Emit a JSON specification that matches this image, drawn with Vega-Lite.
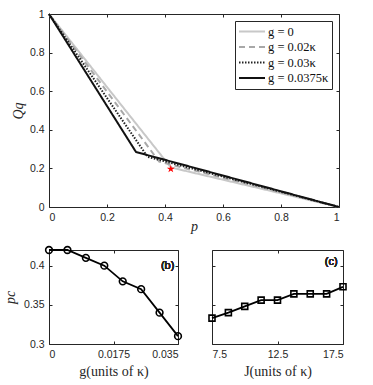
{
  "$schema": "https://vega.github.io/schema/vega-lite/v6.json",
  "background": "white",
  "padding": {"left": 3, "top": 8, "right": 5, "bottom": 0},
  "spacing": 8,
  "resolve": {
    "scale": {"color": "independent", "strokeDash": "independent", "strokeWidth": "independent"},
    "legend": {"color": "independent", "strokeDash": "independent", "strokeWidth": "independent"}
  },
  "datasets": {
    "curves": [
      {"g": "g = 0", "p": 0, "Q": 1},
      {"g": "g = 0", "p": 0.42, "Q": 0.205},
      {"g": "g = 0", "p": 1, "Q": 0},
      {"g": "g = 0.02κ", "p": 0, "Q": 1},
      {"g": "g = 0.02κ", "p": 0.38, "Q": 0.235},
      {"g": "g = 0.02κ", "p": 1, "Q": 0},
      {"g": "g = 0.03κ", "p": 0, "Q": 1},
      {"g": "g = 0.03κ", "p": 0.34, "Q": 0.26},
      {"g": "g = 0.03κ", "p": 1, "Q": 0},
      {"g": "g = 0.0375κ", "p": 0, "Q": 1},
      {"g": "g = 0.0375κ", "p": 0.30, "Q": 0.285},
      {"g": "g = 0.0375κ", "p": 1, "Q": 0}
    ],
    "star": [{"p": 0.42, "Q": 0.197}],
    "pcg": [
      {"g": 0, "pc": 0.42},
      {"g": 0.005, "pc": 0.42},
      {"g": 0.01, "pc": 0.41},
      {"g": 0.015, "pc": 0.40},
      {"g": 0.02, "pc": 0.38},
      {"g": 0.025, "pc": 0.37},
      {"g": 0.03, "pc": 0.34},
      {"g": 0.035, "pc": 0.31}
    ],
    "pcJ": [
      {"J": 7.5, "pc": 0.333},
      {"J": 8.75, "pc": 0.340},
      {"J": 10, "pc": 0.348},
      {"J": 11.25, "pc": 0.356},
      {"J": 12.5, "pc": 0.356},
      {"J": 13.75, "pc": 0.364},
      {"J": 15, "pc": 0.364},
      {"J": 16.25, "pc": 0.364},
      {"J": 17.5, "pc": 0.373}
    ]
  },
  "vconcat": [
    {
      "width": 290,
      "height": 193,
      "layer": [
        {
          "data": {"name": "curves"},
          "mark": {"type": "line", "strokeCap": "butt"},
          "encoding": {
            "x": {"field": "p", "type": "quantitative", "scale": {"domain": [0, 1], "nice": false},
                  "axis": {"values": [0, 0.2, 0.4, 0.6, 0.8, 1], "format": ".4~g", "title": "p", "titleFontStyle": "italic", "titlePadding": -3}},
            "y": {"field": "Q", "type": "quantitative", "scale": {"domain": [0, 1], "nice": false},
                  "axis": {"values": [0, 0.2, 0.4, 0.6, 0.8, 1], "format": ".4~g", "title": "Qq", "titleFontStyle": "italic"}},
            "color": {"field": "g", "type": "nominal", "title": null,
                      "scale": {"domain": ["g = 0", "g = 0.02κ", "g = 0.03κ", "g = 0.0375κ"], "range": ["#c8c8c8", "#a8a8a8", "#222222", "#111111"]},
                      "legend": {"orient": "top-right", "offset": 7, "title": null}},
            "strokeDash": {"field": "g", "type": "nominal", "title": null,
                      "scale": {"domain": ["g = 0", "g = 0.02κ", "g = 0.03κ", "g = 0.0375κ"], "range": [[1, 0], [6, 4], [1.5, 1.5], [1, 0]]},
                      "legend": {"orient": "top-right", "offset": 7, "title": null}},
            "strokeWidth": {"field": "g", "type": "nominal", "title": null,
                      "scale": {"domain": ["g = 0", "g = 0.02κ", "g = 0.03κ", "g = 0.0375κ"], "range": [2, 2, 1.6, 2]},
                      "legend": {"orient": "top-right", "offset": 7, "title": null}}
          }
        },
        {
          "data": {"name": "star"},
          "mark": {"type": "point", "shape": "M0,-1L0.223,-0.307L0.951,-0.309L0.361,0.117L0.588,0.809L0,0.38L-0.588,0.809L-0.361,0.117L-0.951,-0.309L-0.223,-0.307Z", "filled": true, "color": "#ff0000", "size": 70, "opacity": 1},
          "encoding": {
            "x": {"field": "p", "type": "quantitative", "scale": {"domain": [0, 1], "nice": false},
                  "axis": {"orient": "top", "values": [0, 0.2, 0.4, 0.6, 0.8, 1], "labels": false, "title": null}},
            "y": {"field": "Q", "type": "quantitative", "scale": {"domain": [0, 1], "nice": false},
                  "axis": {"orient": "right", "values": [0, 0.2, 0.4, 0.6, 0.8, 1], "labels": false, "title": null}}
          }
        },
        {
          "mark": {"type": "text", "text": "(a)", "font": "Liberation Sans", "fontSize": 11, "color": "#262626"},
          "encoding": {
            "x": {"datum": 0.065, "type": "quantitative", "scale": {"domain": [0, 1], "nice": false}, "axis": null},
            "y": {"datum": 0.935, "type": "quantitative", "scale": {"domain": [0, 1], "nice": false}, "axis": null}
          }
        }
      ],
      "resolve": {"axis": {"x": "independent", "y": "independent"}}
    },
    {
      "spacing": 19,
      "hconcat": [
        {
          "width": 129,
          "height": 94,
          "data": {"name": "pcg"},
          "layer": [
            {
              "mark": {"type": "line", "color": "black", "strokeWidth": 1.8, "point": {"shape": "circle", "filled": false, "fill": null, "size": 45, "stroke": "black", "strokeWidth": 1.6}},
              "encoding": {
                "x": {"field": "g", "type": "quantitative", "scale": {"domain": [0, 0.035], "nice": false},
                      "axis": {"values": [0, 0.0175, 0.035], "format": ".4~g", "title": "g(units of κ)", "titlePadding": 5}},
                "y": {"field": "pc", "type": "quantitative", "scale": {"domain": [0.3, 0.42], "nice": false, "zero": false},
                      "axis": {"values": [0.3, 0.35, 0.4], "format": ".4~g", "title": "pc", "titleFontStyle": "italic", "titlePadding": 6}}
              }
            },
            {
              "mark": {"type": "point", "opacity": 0},
              "encoding": {
                "x": {"field": "g", "type": "quantitative", "scale": {"domain": [0, 0.035], "nice": false},
                      "axis": {"orient": "top", "values": [0, 0.0175, 0.035], "labels": false, "title": null}},
                "y": {"field": "pc", "type": "quantitative", "scale": {"domain": [0.3, 0.42], "nice": false, "zero": false},
                      "axis": {"orient": "right", "values": [0.3, 0.35, 0.4], "labels": false, "title": null}}
              }
            },
            {
              "mark": {"type": "text", "text": "(b)", "font": "Liberation Sans", "fontSize": 11, "color": "#262626"},
              "encoding": {
                "x": {"datum": 0.0322, "type": "quantitative", "scale": {"domain": [0, 0.035], "nice": false}, "axis": null},
                "y": {"datum": 0.4, "type": "quantitative", "scale": {"domain": [0.3, 0.42], "nice": false, "zero": false}, "axis": null}
              }
            }
          ],
          "resolve": {"axis": {"x": "independent", "y": "independent"}}
        },
        {
          "width": 131,
          "height": 94,
          "data": {"name": "pcJ"},
          "layer": [
            {
              "mark": {"type": "line", "color": "black", "strokeWidth": 1.8, "point": {"shape": "square", "filled": false, "fill": null, "size": 36, "stroke": "black", "strokeWidth": 1.6}},
              "encoding": {
                "x": {"field": "J", "type": "quantitative", "scale": {"domain": [7.5, 17.5], "nice": false, "zero": false},
                      "axis": {"values": [7.5, 12.5, 17.5], "format": ".4~g", "title": "J(units of κ)", "titlePadding": 5}},
                "y": {"field": "pc", "type": "quantitative", "scale": {"domain": [0.3, 0.42], "nice": false, "zero": false},
                      "axis": {"values": [0.3, 0.35, 0.4], "labels": false, "title": null}}
              }
            },
            {
              "mark": {"type": "point", "opacity": 0},
              "encoding": {
                "x": {"field": "J", "type": "quantitative", "scale": {"domain": [7.5, 17.5], "nice": false, "zero": false},
                      "axis": {"orient": "top", "values": [7.5, 12.5, 17.5], "labels": false, "title": null}},
                "y": {"field": "pc", "type": "quantitative", "scale": {"domain": [0.3, 0.42], "nice": false, "zero": false},
                      "axis": {"orient": "right", "values": [0.3, 0.35, 0.4], "labels": false, "title": null}}
              }
            },
            {
              "mark": {"type": "text", "text": "(c)", "font": "Liberation Sans", "fontSize": 11, "color": "#262626"},
              "encoding": {
                "x": {"datum": 16.6, "type": "quantitative", "scale": {"domain": [7.5, 17.5], "nice": false, "zero": false}, "axis": null},
                "y": {"datum": 0.405, "type": "quantitative", "scale": {"domain": [0.3, 0.42], "nice": false, "zero": false}, "axis": null}
              }
            }
          ],
          "resolve": {"axis": {"x": "independent", "y": "independent"}}
        }
      ]
    }
  ],
  "config": {
    "view": {"stroke": "#262626", "strokeWidth": 1},
    "axis": {
      "domain": false,
      "grid": false,
      "ticks": true,
      "tickSize": -3,
      "tickColor": "#262626",
      "tickWidth": 1,
      "labelPadding": 8,
      "labelFont": "Liberation Sans",
      "labelFontSize": 10.5,
      "labelColor": "#262626",
      "titleFont": "Liberation Serif",
      "titleFontSize": 14,
      "titleFontWeight": "normal",
      "titleColor": "#262626"
    },
    "legend": {
      "strokeColor": "#262626",
      "fillColor": "white",
      "padding": 3,
      "rowPadding": 0.5,
      "clipHeight": 15,
      "symbolType": "stroke",
      "symbolSize": 676,
      "labelFont": "Liberation Serif",
      "labelFontSize": 12.5,
      "labelColor": "#111111",
      "labelOffset": 2
    }
  }
}
